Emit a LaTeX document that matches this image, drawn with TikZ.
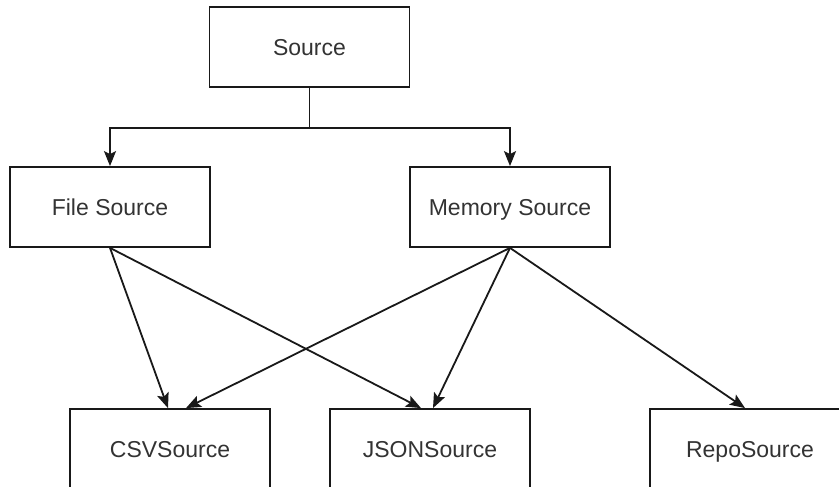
\documentclass[tikz,border=0pt]{standalone}
\usepackage{fontspec}
\setmainfont{Liberation Sans}
\usetikzlibrary{arrows.meta,positioning}

\tikzset{
  cls/.style={draw=black!90, line width=1.8pt, minimum width=200pt, minimum height=80pt,
    font=\fontsize{23}{28}\selectfont, text=black!80, fill=white,
    text height=19pt, text depth=2pt},
  arr/.style={draw=black!90, line width=1.8pt, -{Stealth[length=15pt,width=12pt,inset=3pt]}}
}

\begin{document}
\begin{tikzpicture}[x=1pt, y=1pt, node distance=160pt, on grid]
        \clip (0,0) rectangle (839,487);
        \fill[white] (0,0) rectangle (839,487);

        \node[cls] (src) at (309.5,440) {Source};
        \node[cls, below left=160pt and 199.5pt of src] (fs) {File Source};
        \node[cls, below right=160pt and 200.5pt of src] (ms) {Memory Source};

        \node[cls] (csv) at (170,38) {CSVSource};
        \node[cls, right=260pt of csv] (json) {JSONSource};
        \node[cls, right=320pt of json] (repo) {RepoSource};

        % source to its two subclasses
        \draw[arr] (src.south) -- ++(0,-40pt) -| (fs.north);
        \draw[arr] (src.south) -- ++(0,-40pt) -| (ms.north);

        \draw[arr] (fs.south) -- ([xshift=-2pt]csv.north);
        \draw[arr] (fs.south) -- ([xshift=-9pt]json.north);

        \draw[arr] (ms.south) -- ([xshift=16pt]csv.north);
        \draw[arr] (ms.south) -- ([xshift=3pt]json.north);
        \draw[arr] (ms.south) -- ([xshift=-5pt]repo.north);
\end{tikzpicture}
\end{document}
